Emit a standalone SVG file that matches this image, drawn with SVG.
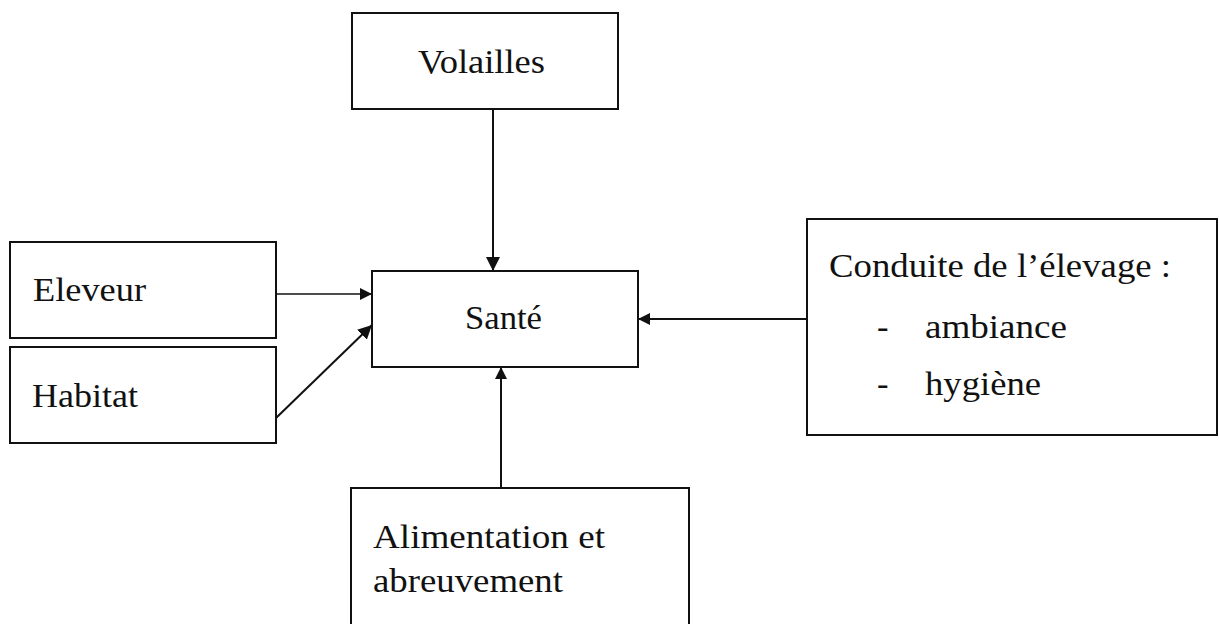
<svg xmlns="http://www.w3.org/2000/svg" width="1219" height="624" viewBox="0 0 1219 624">
  <style>
    .box { fill: #ffffff; stroke: #111111; stroke-width: 2; }
    .lbl { font-family: "Liberation Serif", "Times New Roman", serif; font-size: 34.5px; fill: #111111; }
    .conn { stroke: #111111; stroke-width: 2; fill: none; }
    .thin { stroke-width: 1.3; }
  </style>
  <defs>
    <marker id="arrow" viewBox="0 0 10 10" refX="10" refY="5" markerWidth="12" markerHeight="12" markerUnits="userSpaceOnUse" orient="auto">
      <path d="M0,0 L10,5 L0,10 Z" fill="#111111"/>
    </marker>
    <marker id="arrowL" viewBox="0 0 10 10" refX="10" refY="5" markerWidth="14" markerHeight="14" markerUnits="userSpaceOnUse" orient="auto">
      <path d="M0,0 L10,5 L0,10 Z" fill="#111111"/>
    </marker>
  </defs>
  <rect width="1219" height="624" fill="#ffffff"/>

  <g id="volailles">
    <rect class="box" x="352" y="13" width="266" height="96"/>
    <text class="lbl" x="418" y="73" textLength="127" lengthAdjust="spacingAndGlyphs">Volailles</text>
  </g>

  <g id="sante">
    <rect class="box" x="372" y="271" width="266" height="96"/>
    <text class="lbl" x="465" y="329" textLength="77" lengthAdjust="spacingAndGlyphs">Santé</text>
  </g>

  <g id="eleveur">
    <rect class="box" x="10" y="242" width="266" height="96"/>
    <text class="lbl" x="33" y="301" textLength="113" lengthAdjust="spacingAndGlyphs">Eleveur</text>
  </g>

  <g id="habitat">
    <rect class="box" x="10" y="347" width="266" height="96"/>
    <text class="lbl" x="32" y="407" textLength="106" lengthAdjust="spacingAndGlyphs">Habitat</text>
  </g>

  <g id="conduite">
    <rect class="box" x="807" y="219" width="410" height="216"/>
    <text class="lbl" x="829" y="277" textLength="342" lengthAdjust="spacingAndGlyphs">Conduite de l’élevage :</text>
    <text class="lbl" x="877" y="338">-</text>
    <text class="lbl" x="925" y="338" textLength="142" lengthAdjust="spacingAndGlyphs">ambiance</text>
    <text class="lbl" x="877" y="395">-</text>
    <text class="lbl" x="925" y="395" textLength="116" lengthAdjust="spacingAndGlyphs">hygiène</text>
  </g>

  <g id="alimentation">
    <rect class="box" x="351" y="488" width="338" height="150"/>
    <text class="lbl" x="373" y="548" textLength="232" lengthAdjust="spacingAndGlyphs">Alimentation et</text>
    <text class="lbl" x="373" y="592" textLength="190" lengthAdjust="spacingAndGlyphs">abreuvement</text>
  </g>

  <g id="connectors">
    <line class="conn" x1="493" y1="109" x2="493" y2="271" marker-end="url(#arrowL)"/>
    <line class="conn thin" x1="276" y1="294" x2="372" y2="294" marker-end="url(#arrow)"/>
    <line class="conn" x1="276" y1="418" x2="372" y2="325" marker-end="url(#arrowL)"/>
    <line class="conn" x1="807" y1="319" x2="638" y2="319" marker-end="url(#arrow)"/>
    <line class="conn" x1="501" y1="488" x2="501" y2="367" marker-end="url(#arrow)"/>
  </g>
</svg>
